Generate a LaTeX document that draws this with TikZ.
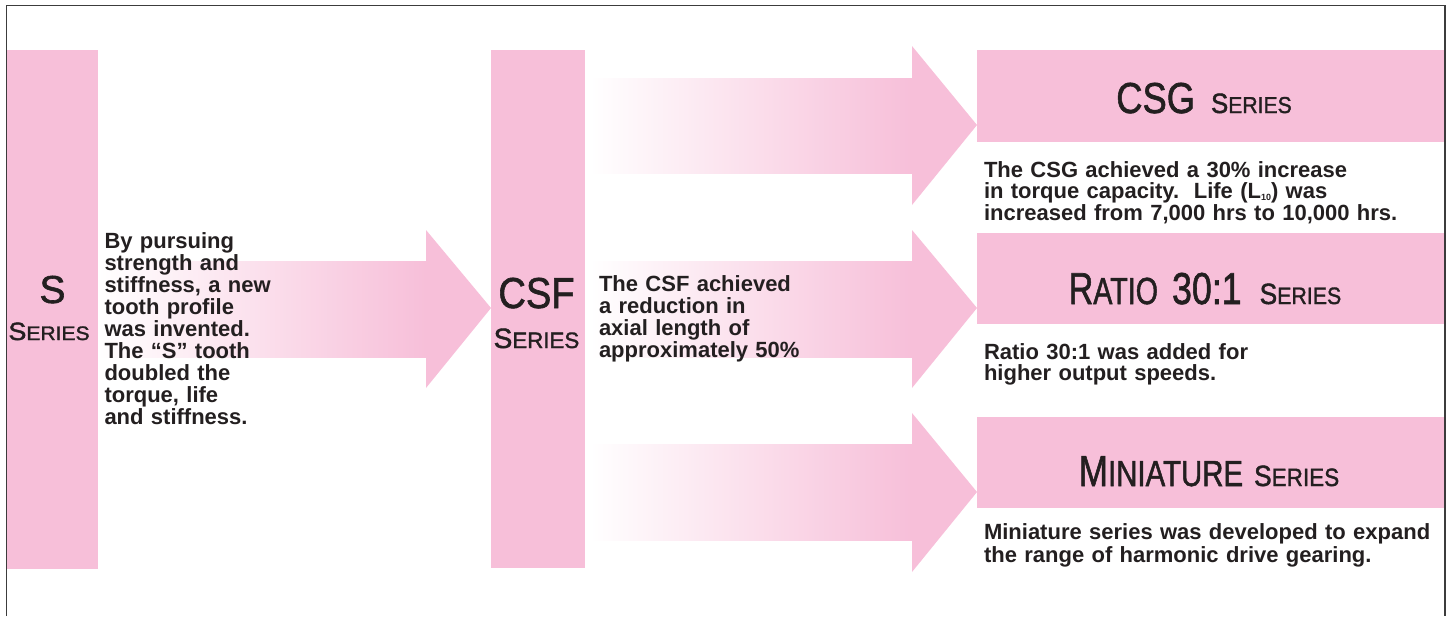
\documentclass[tikz,border=0pt]{standalone}
\usepackage{fontspec}
\setmainfont{Liberation Sans}
\newfontfamily\tfont{Liberation Sans}[FakeBold=1.5]
\usetikzlibrary{calc}
\definecolor{pinkc}{RGB}{247,191,217}
\definecolor{inkc}{RGB}{35,31,32}
\definecolor{framec}{RGB}{60,60,60}
\newcommand\fs[1]{\fontsize{#1}{#1}\selectfont}
\tikzset{
  pbox/.style={fill=pinkc, draw=none, inner sep=0pt, outer sep=0pt},
  ttl/.style={inner sep=0pt, outer sep=0pt, anchor=base, text=inkc, font=\tfont},
  desc/.style={inner sep=0pt, outer sep=0pt, anchor=base west, align=left, text=inkc, text width=#1},
  desc/.default=460pt,
  shaft/.style={left color=white, right color=pinkc, draw=none},
  head/.style={fill=pinkc, draw=none}
}
\begin{document}
\begin{tikzpicture}[x=1pt,y=-1pt]
\useasboundingbox (0,0) rectangle (1450,616);
% frame
\draw[framec, line width=1.5pt] (6.5,616) -- (6.5,5.7) -- (1445,5.7) -- (1445,616);

% boxes
\node[pbox, minimum width=91pt, minimum height=519pt, anchor=north west] (s) at (7,50) {};
\node[pbox, minimum width=94pt, minimum height=518pt, anchor=north west] (csf) at (491,50) {};
\node[pbox, minimum width=467pt, minimum height=92pt, anchor=north west] (csg) at (977,50) {};
\node[pbox, minimum width=467pt, minimum height=91pt, anchor=north west] (ratio) at (977,233) {};
\node[pbox, minimum width=467pt, minimum height=91pt, anchor=north west] (mini) at (977,417) {};

% arrows
\coordinate (a1s) at (s.east |- 0,309);
\coordinate (a1t) at (csf.west |- 0,308);
\fill[shaft] (a1s |- 0,261) rectangle (426,357);
\fill[head] (426,230) -- (a1t) -- (426,388) -- cycle;

\coordinate (a2t) at (csg.west |- 0,125);
\fill[shaft] (590,78) rectangle (912,173);
\fill[head] (912,46) -- (a2t) -- (912,205) -- cycle;

\coordinate (a3t) at (ratio.west |- 0,308);
\fill[shaft] (590,261) rectangle (912,357);
\fill[head] (912,230) -- (a3t) -- (912,388) -- cycle;

\coordinate (a4t) at (mini.west |- 0,492);
\fill[shaft] (590,444) rectangle (912,540);
\fill[head] (912,413) -- (a4t) -- (912,572) -- cycle;

% titles
\node[ttl] (st1) at (52.5,303) {\fs{39}S};
\node[ttl] (st2) at (49,340) {\scalebox{1.08}[1]{\fs{25}S\fs{19.5}ERIES}};
\node[ttl] (ct1) at (536.5,308) {\scalebox{0.88}[1]{\fs{43.3}CSF}};
\node[ttl] (ct2) at (536.5,348) {\fs{28}S\fs{22.3}ERIES};
\node[ttl] (gt) at (1204,113) {\scalebox{0.84}[1]{\fs{43.3}CSG}\hspace{16pt}\scalebox{0.92}[1]{\fs{28}S\fs{23}ERIES}};
\node[ttl] (rt) at (1205,304) {\scalebox{0.76}[1]{\fs{44.7}R\fs{37.7}ATIO}\hspace{14pt}\scalebox{0.8}[1]{\fs{44.7}30:1}\hspace{18pt}\scalebox{0.9}[1]{\fs{29.3}S\fs{23.7}ERIES}};
\node[ttl] (mt) at (1209,486) {\scalebox{0.81}[1]{\fs{43.3}M\fs{36.3}INIATURE}\hspace{11pt}\scalebox{0.9}[1]{\fs{29.3}S\fs{25}ERIES}};

% descriptions
\node[desc=200pt, font=\bfseries\fontsize{22}{22}\selectfont] (sd) at (104.5,248)
  {By pursuing\\strength and\\stiffness, a new\\tooth profile\\was invented.\\The “S” tooth\\doubled the\\torque, life\\and stiffness.};
\node[desc=250pt, font=\bfseries\fontsize{22}{22}\selectfont] (cd) at (599,291)
  {The CSF achieved\\a reduction in\\axial length of\\approximately 50\%};
\node[desc, font=\bfseries\fontsize{22}{21.7}\selectfont] (gd) at (984,177)
  {The CSG achieved a 30\% increase\\in torque capacity.\ \ Life (L\raisebox{-1.5pt}{\fs{9}10}) was\\increased from 7,000 hrs to 10,000 hrs.};
\node[desc, font=\bfseries\fontsize{22}{21}\selectfont] (rd) at (984,359)
  {Ratio 30:1 was added for\\higher output speeds.};
\node[desc, font=\bfseries\fontsize{22}{23.5}\selectfont] (md) at (984,539)
  {Miniature series was developed to expand\\the range of harmonic drive gearing.};
\end{tikzpicture}
\end{document}
